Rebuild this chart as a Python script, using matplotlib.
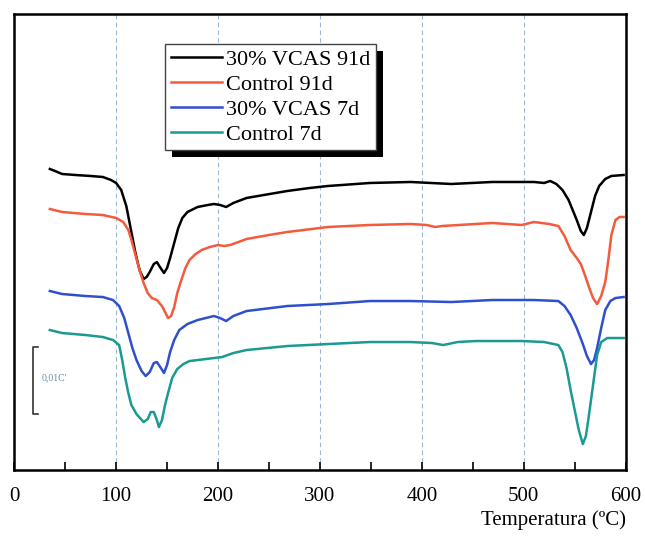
import matplotlib.pyplot as plt
from matplotlib.patches import Rectangle
from matplotlib.transforms import IdentityTransform

plt.rcParams["font.family"] = ["Liberation Serif", "DejaVu Serif"]

# temperatures (ºC) and DTG traces (vertical offset, arbitrary units, larger = lower)
t_vcas91 = [35, 40, 47, 60, 75, 87, 95, 100, 105, 110, 115, 119, 123, 127, 130, 133, 137, 140,
            143, 147, 150, 153, 157, 161, 165, 170, 180, 190, 196, 202, 208, 215, 228, 245, 268,
            290, 308, 349, 389, 429, 469, 510, 520, 526, 532, 538, 544, 548, 552, 556, 559, 562,
            566, 570, 574, 580, 586, 598]
vcas91 = [169, 171, 174, 175, 176, 177, 180, 183, 190, 206, 232, 253, 270, 279, 277, 272, 264, 262,
          267, 273, 268, 258, 243, 228, 218, 212, 207, 205, 204, 205, 207, 203, 198, 195, 191,
          188, 186, 183, 182, 184, 182, 182, 183, 181, 184, 190, 200, 210, 220, 231, 235, 228,
          212, 196, 186, 179, 176, 175]

t_ctrl91 = [35, 47, 70, 87, 100, 107, 112, 115, 119, 123, 127, 131, 135, 140, 145, 148, 151, 154,
            157, 160, 164, 168, 172, 178, 184, 192, 200, 206, 212, 220, 228, 250, 268, 308, 349,
            389, 405, 413, 420, 469, 498, 510, 525, 534, 540, 546, 552, 556, 560, 564, 568, 572,
            576, 580, 583, 586, 590, 594, 598]
ctrl91 = [209, 212, 214, 215, 218, 222, 230, 240, 255, 270, 283, 293, 298, 300, 306, 312, 318, 316,
          307, 293, 280, 268, 260, 254, 250, 247, 245, 246, 245, 242, 239, 235, 232, 227, 225,
          224, 225, 227, 226, 223, 225, 222, 224, 226, 236, 250, 258, 264, 275, 287, 298, 304,
          296, 282, 260, 235, 220, 217, 217]

t_vcas7 = [35, 47, 70, 87, 97, 103, 108, 112, 116, 120, 125, 129, 133, 137, 140, 144, 147, 150,
           153, 157, 162, 170, 180, 196, 202, 208, 215, 228, 268, 308, 349, 389, 429, 469, 510,
           534, 540, 546, 552, 558, 562, 566, 569, 572, 576, 580, 585, 590, 598]
vcas7 = [291, 294, 296, 297, 300, 306, 318, 333, 348, 360, 371, 376, 372, 363, 362, 368, 373, 365,
         352, 340, 330, 324, 320, 316, 318, 321, 316, 311, 306, 304, 301, 301, 302, 300, 300,
         301, 306, 315, 328, 344, 356, 364, 360, 348, 328, 310, 301, 298, 297]

t_ctrl7 = [35, 47, 70, 87, 97, 103, 106, 109, 112, 115, 120, 127, 131, 134, 137, 140, 142, 145,
           148, 151, 155, 160, 166, 172, 188, 204, 215, 228, 268, 308, 349, 389, 410, 421, 435,
           453, 498, 520, 534, 538, 542, 546, 550, 554, 558, 561, 564, 568, 572, 576, 582, 598]
ctrl7 = [330, 333, 335, 337, 340, 345, 360, 378, 393, 405, 414, 422, 419, 412, 412, 420, 427, 420,
         405, 393, 378, 369, 364, 361, 359, 357, 353, 350, 346, 344, 342, 342, 343, 345, 342,
         341, 341, 342, 345, 352, 368, 390, 410, 430, 444, 436, 415, 385, 355, 342, 338, 338]

xticks = [0, 100, 200, 300, 400, 500, 600]

fig = plt.figure(figsize=(6.45, 5.36), dpi=100)
ax = fig.add_axes([0.022, 0.123, 0.948, 0.851])

ax.plot(t_vcas91, vcas91, color="#000000", lw=1.8, label="30% VCAS 91d")
ax.plot(t_ctrl91, ctrl91, color="#f45a3c", lw=1.8, label="Control 91d")
ax.plot(t_vcas7, vcas7, color="#2f4fcf", lw=1.8, label="30% VCAS 7d")
ax.plot(t_ctrl7, ctrl7, color="#1a9a93", lw=1.8, label="Control 7d")

ax.set_xlim(0, 600)
ax.set_ylim(470, 14)
ax.set_xticks(xticks)
ax.set_xticks(range(50, 600, 100), minor=True)
ax.set_yticks([])
ax.tick_params(axis="x", which="both", direction="in", length=6, width=1.2,
               labelsize=15, pad=12)
for sp in ax.spines.values():
    sp.set_linewidth(1.8)
for x in xticks[1:-1]:
    ax.axvline(x, color="#9ab8d0", lw=0.8, ls=(0, (4, 3)), zorder=0)

ax.set_xlabel("Temperatura (ºC)", fontsize=15, loc="right", labelpad=3)

# scale bar
ax.plot([23, 18.5, 18.5, 23], [347, 347, 414, 414], color="#333333", lw=1.2)
ax.text(27, 378, "0,01C'", fontsize=7, color="#6a8aa8", va="center")

leg = ax.legend(loc="upper left", bbox_to_anchor=(0.247, 0.935), fontsize=16,
                frameon=True, fancybox=False, edgecolor="#444444", framealpha=1,
                handlelength=2.3, handletextpad=0.2, labelspacing=0.2,
                borderpad=0.25, borderaxespad=0)
leg.get_frame().set_linewidth(1.0)
leg.set_zorder(10)

fig.canvas.draw()
bb = leg.get_window_extent()
shadow = Rectangle((bb.x0 + 7, bb.y0 - 7), bb.width, bb.height,
                   facecolor="black", edgecolor="none", zorder=9)
shadow.set_transform(IdentityTransform())
ax.add_artist(shadow)

fig.savefig("out.png", dpi=100)
